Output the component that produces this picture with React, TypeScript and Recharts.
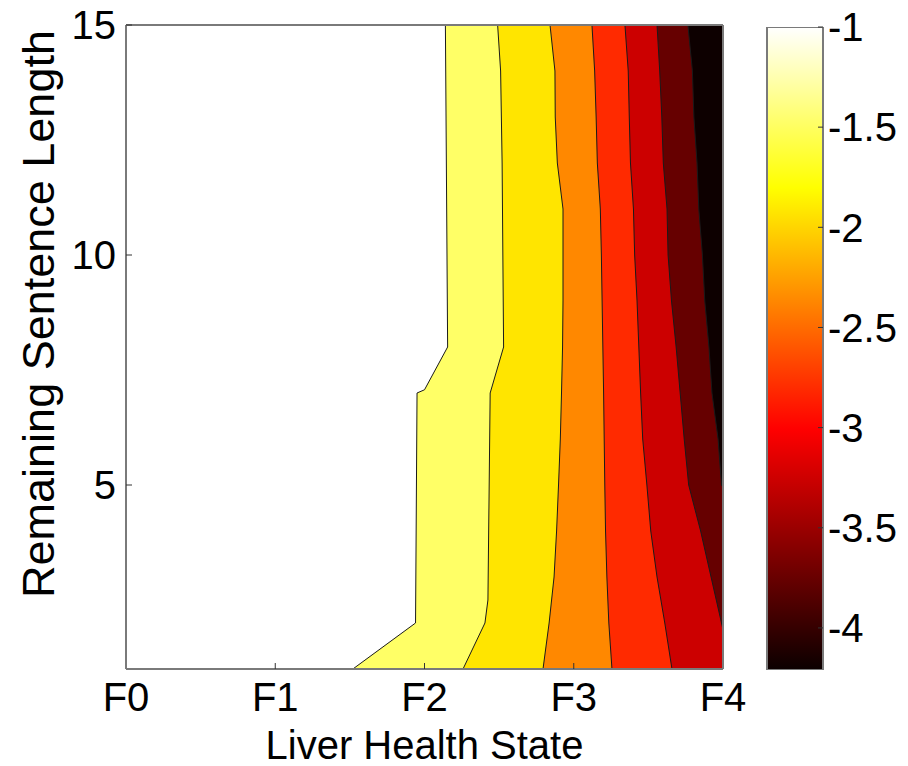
import React from "react";
import { ComposedChart, Area, Bar, XAxis, YAxis, Label } from "recharts";

// ---- data ----
const xTicks = [0, 1, 2, 3, 4];
const xTickLabels = ["F0", "F1", "F2", "F3", "F4"];
const yTicks = [5, 10, 15];
const colorbarTicks = [-4, -3.5, -3, -2.5, -2, -1.5, -1];
const colorbarDomain = [-4.21, -1];

// contour boundaries as [remaining sentence length, liver state position]
const edgeFull: [number, number][] = [[15, 4], [1, 4]];
const edge7: [number, number][] = [[15, 3.765], [14, 3.795], [13, 3.805], [12, 3.826], [11, 3.838], [10, 3.862], [9, 3.878], [8, 3.906], [7, 3.926], [6, 3.967], [5, 3.99], [4.95, 4], [1, 4]];
const edge6: [number, number][] = [[15, 3.558], [14, 3.576], [13, 3.59], [12, 3.6], [11, 3.625], [10, 3.632], [9, 3.655], [8, 3.686], [7, 3.713], [6, 3.74], [5, 3.77], [4, 3.85], [3, 3.92], [2, 3.99], [1.85, 4], [1, 4]];
const edge5: [number, number][] = [[15, 3.343], [14, 3.365], [13, 3.372], [12, 3.38], [11, 3.4], [10, 3.408], [9, 3.424], [8, 3.436], [7, 3.448], [6, 3.462], [5, 3.49], [4, 3.516], [3, 3.558], [2, 3.61], [1, 3.658]];
const edge4: [number, number][] = [[15, 3.122], [14, 3.14], [13, 3.15], [12, 3.158], [11, 3.178], [10, 3.185], [9, 3.19], [8, 3.195], [7, 3.2], [6, 3.204], [5, 3.208], [4, 3.213], [3, 3.222], [2, 3.235], [1, 3.256]];
const edge3: [number, number][] = [[15, 2.841], [14, 2.874], [13, 2.876], [12, 2.89], [11, 2.928], [9, 2.928], [8, 2.925], [7, 2.918], [6, 2.91], [5, 2.898], [4, 2.885], [3, 2.868], [2, 2.835], [1, 2.794]];
const edge2: [number, number][] = [[15, 2.49], [14, 2.51], [12, 2.52], [10, 2.525], [8, 2.53], [7, 2.44], [2.5, 2.425], [2, 2.405], [1, 2.258]];
const edge1: [number, number][] = [[15, 2.14], [8, 2.155], [7.07, 2.0], [7, 1.95], [2, 1.94], [1, 1.52]];

const bandEdges = [edgeFull, edge7, edge6, edge5, edge4, edge3, edge2, edge1];
const bandColors = ["#0d0000", "#660000", "#cc0000", "#ff2a00", "#ff8800", "#ffe500", "#ffff66", "#ffffff"];

const colorbarData = [{ k: "cb", range: colorbarDomain }];

const FONT = "'Liberation Sans', Arial, Helvetica, sans-serif";
const FRAME = "#7a7a7a";

const toRows = (edge: [number, number][]) => edge.map(([y, x]) => ({ y, x }));

export default function App() {
  const tickStyle = { fill: "#000", fontSize: 40, fontFamily: FONT };
  return (
    <div style={{ position: "absolute", left: 0, top: 0, width: 908, height: 766, background: "#fff" }}>
      <div style={{ position: "absolute", left: 0, top: 0 }}>
        <ComposedChart
          width={760}
          height={766}
          layout="vertical"
          margin={{ top: 24, right: 36, bottom: 0, left: 0 }}
        >
          {bandEdges.map((edge, i) => (
            <Area
              key={i}
              data={toRows(edge)}
              dataKey="x"
              type="linear"
              fill={bandColors[i]}
              fillOpacity={1}
              stroke={i === 0 ? "none" : "#1a1a1a"}
              strokeWidth={1}
              dot={false}
              activeDot={false}
              isAnimationActive={false}
            />
          ))}
          <XAxis
            type="number"
            dataKey="x"
            domain={[0, 4]}
            ticks={xTicks}
            tickFormatter={(v: number) => xTickLabels[v]}
            height={97}
            tick={tickStyle}
            tickSize={-6}
            tickMargin={20}
            axisLine={{ stroke: FRAME, strokeWidth: 2 }}
            tickLine={{ stroke: "#333" }}
            allowDataOverflow
          >
            <Label
              content={(p: any) => {
                const vb = p.viewBox;
                return (
                  <text x={vb.x + vb.width / 2} y={vb.y + 90} textAnchor="middle" fontSize={40} fontFamily={FONT} fill="#000">
                    Liver Health State
                  </text>
                );
              }}
            />
          </XAxis>
          <XAxis
            xAxisId="top"
            orientation="top"
            type="number"
            domain={[0, 4]}
            ticks={xTicks}
            height={1}
            tick={false}
            tickSize={-6}
            axisLine={{ stroke: FRAME, strokeWidth: 2 }}
            tickLine={{ stroke: "#333" }}
            allowDataOverflow
          />
          <YAxis
            type="number"
            dataKey="y"
            domain={[1, 15]}
            reversed
            ticks={yTicks}
            width={126}
            tick={tickStyle}
            tickSize={-6}
            tickMargin={16}
            axisLine={{ stroke: FRAME, strokeWidth: 2 }}
            tickLine={{ stroke: "#333" }}
            allowDataOverflow
          >
            <Label
              content={(p: any) => {
                const vb = p.viewBox;
                const cx = vb.x + 38;
                const cy = vb.y + 289;
                return (
                  <text
                    x={cx}
                    y={cy}
                    textAnchor="middle"
                    dominantBaseline="central"
                    transform={`rotate(-90, ${cx}, ${cy})`}
                    fontSize={45}
                    fontFamily={FONT}
                    fill="#000"
                  >
                    Remaining Sentence Length
                  </text>
                );
              }}
            />
          </YAxis>
          <YAxis
            yAxisId="right"
            orientation="right"
            type="number"
            domain={[1, 15]}
            reversed
            ticks={yTicks}
            width={1}
            tick={false}
            tickSize={-6}
            axisLine={{ stroke: FRAME, strokeWidth: 2 }}
            tickLine={{ stroke: "#333" }}
            allowDataOverflow
          />
        </ComposedChart>
      </div>
      <div style={{ position: "absolute", left: 740, top: 0 }}>
        <ComposedChart
          width={168}
          height={766}
          data={colorbarData}
          barCategoryGap={0}
          margin={{ top: 27, right: 0, bottom: 96, left: 27 }}
        >
          <defs>
            <linearGradient id="hotmap" x1="0" y1="0" x2="0" y2="1">
              <stop offset="0" stopColor="#ffffff" />
              <stop offset="0.25" stopColor="#ffff00" />
              <stop offset="0.625" stopColor="#ff0000" />
              <stop offset="1" stopColor="#0b0000" />
            </linearGradient>
          </defs>
          <XAxis dataKey="k" type="category" hide />
          <Bar
            dataKey="range"
            fill="url(#hotmap)"
            stroke={FRAME}
            strokeWidth={2}
            isAnimationActive={false}
          />
          <YAxis
            type="number"
            domain={colorbarDomain}
            ticks={colorbarTicks}
            width={0}
            tick={false}
            tickSize={-5}
            axisLine={false}
            tickLine={{ stroke: "#333" }}
            allowDataOverflow
          />
          <YAxis
            yAxisId="cbr"
            orientation="right"
            type="number"
            domain={colorbarDomain}
            ticks={colorbarTicks}
            width={85}
            tick={tickStyle}
            tickSize={-5}
            tickMargin={10}
            axisLine={false}
            tickLine={{ stroke: "#333" }}
            allowDataOverflow
          />
        </ComposedChart>
      </div>
    </div>
  );
}
